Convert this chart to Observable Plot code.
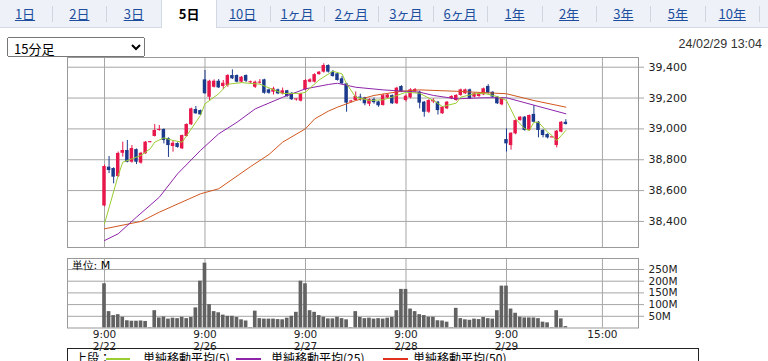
<!DOCTYPE html>
<html><head><meta charset="utf-8">
<script src="https://cdn.jsdelivr.net/npm/d3@7"></script>
<script src="https://cdn.jsdelivr.net/npm/@observablehq/plot@0.6"></script>
<style>
body{margin:0;width:768px;height:361px;overflow:hidden;background:#fff;position:relative;font-family:"Noto Sans CJK JP","Noto Sans",sans-serif}
#tabs{position:absolute;left:0;top:0;width:768px;height:27px;background:#eef2f8;border-bottom:1px solid #d3d9e3}
.tab{position:absolute;top:0;height:27px;line-height:27px;font-size:13px;color:#1d4f9e;text-decoration:underline;text-align:center}
.tab.sel{background:#fff;color:#000;font-weight:bold;text-decoration:none;border-left:1px solid #d3d9e3;border-right:1px solid #d3d9e3;height:28px}
.sep{position:absolute;top:6px;width:1px;height:16px;background:#d0d6e0}
#sel{position:absolute;left:7px;top:37px;width:138px;height:20px;font-size:13px;font-family:"Noto Sans CJK JP",sans-serif;padding:0 2px;box-sizing:border-box}
#stamp{position:absolute;right:6px;top:37px;font-size:12.5px;color:#333;font-family:"Liberation Sans",Arial,sans-serif}
#price{position:absolute;left:0;top:50px}
#vol{position:absolute;left:0;top:250px}
#legend{position:absolute;left:67px;top:348px;width:632px;height:20px;border:1px solid #222;box-sizing:border-box;font-size:12px;color:#000}
#legend span{position:absolute;top:3px;line-height:12px;white-space:nowrap}
#legend i{position:absolute;top:9px;height:2px}
svg text{font-family:"DejaVu Sans",sans-serif}
</style></head><body>
<div id="tabs"></div>
<select id="sel"></select>
<div id="stamp"></div>
<div id="price"></div>
<div id="vol"></div>
<div id="legend"></div>
<script>
// ---- labels ----
const tabLabels = ["1日","2日","3日","5日","10日","1ヶ月","2ヶ月","3ヶ月","6ヶ月","1年","2年","3年","5年","10年"];
const selectedTab = "5日";
const intervalLabel = "15分足";
const stampText = "24/02/29 13:04";
const volUnit = "単位: M";
const legendTitle = "上段：";
const maNames = ["単純移動平均(5)","単純移動平均(25)","単純移動平均(50)"];
const maColors = ["#9acd32","#8e24aa","#d2571e"];

// ---- axes ----
const xTickIdx = [0,22,44,66,88,109];
const xTickLabels = ["9:00\n2/22","9:00\n2/26","9:00\n2/27","9:00\n2/28","9:00\n2/29","15:00"];
const priceTicks = [38400,38600,38800,39000,39200,39400];
const volTicks = [50,100,150,200,250];

// ---- 15-minute candles (22 per day; 2/29 up to 13:00) ----
const opens = [
 38500,38752,38743,38691,38842,38860,38784,38866,38778,38839,38912,38951,38990,38996,38938,38886,38905,38871,38951,39027,39126,39119,
 39318,39205,39270,39309,39275,39281,39346,39346,39303,39346,39300,39270,39298,39318,39253,39238,39253,39227,39247,39231,39189,39180,
 39253,39303,39303,39352,39368,39411,39368,39357,39325,39292,39175,39184,39205,39201,39160,39190,39175,39152,39200,39216,39163,39275,
 39184,39201,39240,39238,39173,39108,39175,39173,39098,39130,39195,39184,39217,39228,39253,39206,39210,39221,39275,39238,39206,39156,
 38931,38892,38968,39054,39076,38990,39094,39043,38990,38964,38944,38892,38979,39043];
const highs = [
 38765,38821,38748,38850,38914,38925,38892,38870,38848,38918,38918,39028,39022,39000,38942,38925,38910,38960,39032,39135,39145,39122,
 39379,39315,39318,39320,39314,39352,39383,39350,39340,39350,39310,39310,39320,39322,39258,39270,39258,39265,39250,39235,39195,39232,
 39320,39325,39358,39372,39422,39415,39379,39362,39340,39296,39185,39240,39225,39205,39195,39200,39180,39225,39225,39220,39270,39280,
 39220,39260,39262,39245,39178,39190,39195,39178,39145,39178,39215,39222,39258,39258,39258,39233,39233,39265,39287,39240,39210,39203,
 39000,38975,39058,39080,39080,39090,39151,39048,38995,38968,38948,38990,39048,39060];
const lows = [
 38495,38710,38644,38685,38817,38780,38778,38769,38772,38835,38910,38948,38985,38903,38815,38849,38875,38866,38948,39022,39095,39088,
 39225,39184,39265,39262,39255,39270,39320,39298,39298,39300,39295,39262,39290,39225,39225,39220,39222,39220,39205,39185,39180,39175,
 39248,39298,39298,39348,39362,39362,39335,39310,39288,39108,39170,39180,39180,39150,39145,39160,39140,39148,39195,39158,39158,39235,
 39175,39195,39235,39130,39076,39100,39165,39090,39095,39125,39190,39180,39212,39224,39190,39202,39205,39216,39226,39200,39158,39150,
 38850,38862,38962,39050,38985,38985,39040,38942,38942,38935,38942,38877,38975,39025];
const closes = [
 38756,38730,38687,38841,38860,38784,38873,38784,38842,38914,38916,38990,38996,38925,38892,38907,38880,38957,39029,39130,39098,39091,
 39228,39309,39309,39266,39296,39346,39325,39303,39335,39309,39305,39303,39302,39231,39231,39260,39227,39247,39210,39189,39193,39227,
 39314,39318,39352,39368,39411,39368,39340,39314,39292,39167,39180,39210,39200,39163,39190,39170,39150,39216,39220,39163,39264,39238,
 39212,39253,39255,39167,39108,39184,39185,39119,39141,39173,39210,39217,39253,39253,39195,39228,39228,39260,39231,39206,39163,39199,
 38903,38972,39054,39076,38990,39087,39043,38990,38957,38942,38946,38985,39043,39029];
// volume, millions of shares
const volumes = [
 189,70,53,57,46,31,29,29,30,28,2,74,43,47,38,42,40,46,40,45,86,200,
 277,100,70,65,55,50,50,45,35,30,2,72,40,38,38,38,36,35,42,50,67,200,
 189,74,67,53,46,39,39,46,40,35,2,70,45,40,42,38,40,38,42,45,74,165,
 165,81,70,57,53,46,46,31,30,25,2,84,40,35,33,38,36,45,40,38,74,179,
 179,81,63,46,43,43,43,40,25,22,2,74,39,6];

// ---- moving averages (bar index, value) ----
const ma5Idx = [0,3,4,6,8,10,11,13,15,17,18,21,22,25,27,30,34,39,43,44,47,50,52,53,55,58,61,63,66,69,72,74,77,78,81,83,86,88,90,92,93,94,95,97,98,99,100,101];
const ma5Val = [38385,38698,38784,38806,38828,38871,38914,38942,38925,38914,38957,39087,39163,39228,39290,39300,39290,39230,39230,39238,39318,39374,39357,39292,39206,39184,39189,39206,39238,39231,39184,39145,39167,39206,39228,39231,39210,39184,39065,39001,38990,39043,39043,38979,38957,38924,38957,38990];
const ma25Idx = [0,3,7,12,16,21,25,29,33,39,44,49,51,55,61,69,72,77,83,88,101];
const ma25Val = [38276,38320,38428,38557,38709,38860,38968,39043,39130,39205,39260,39288,39296,39270,39253,39238,39217,39195,39202,39202,39098];
const ma50Idx = [0,8,12,21,25,32,36,39,44,46,49,51,55,59,65,69,77,88,94,101];
const ma50Val = [38352,38400,38460,38579,38612,38756,38834,38914,39001,39065,39115,39141,39184,39217,39244,39253,39244,39228,39184,39141];

// ---- HTML chrome ----
const tabs = document.getElementById("tabs");
tabLabels.forEach((t,k)=>{
  const c = 25 + k*54.4;
  const d = document.createElement("div");
  d.className = "tab" + (t===selectedTab ? " sel" : "");
  d.style.left = (c-27)+"px"; d.style.width = "54px";
  d.textContent = t; tabs.appendChild(d);
  if (t!==selectedTab && tabLabels[k+1]!==selectedTab) {
    const s = document.createElement("div"); s.className="sep"; s.style.left=(c+27)+"px"; tabs.appendChild(s);
  }
});
const sel = document.getElementById("sel");
const opt = document.createElement("option"); opt.textContent = intervalLabel; sel.appendChild(opt);
document.getElementById("stamp").textContent = stampText;
const lg = document.getElementById("legend");
lg.innerHTML = `<span style="left:7px">${legendTitle}</span>
<i style="left:38px;width:24px;background:${maColors[0]}"></i><span style="left:75px">${maNames[0]}</span>
<i style="left:168px;width:25px;background:${maColors[1]}"></i><span style="left:203px">${maNames[1]}</span>
<i style="left:315px;width:25px;background:#e0301e"></i><span style="left:345px">${maNames[2]}</span>`;

// ---- data table ----
const RED = "#e8174b", BLUE = "#1b3a8c";
const bars = opens.map((o,i)=>{
  const c = closes[i];
  let top = Math.max(o,c), bot = Math.min(o,c);
  if (top-bot < 7) { const m=(top+bot)/2; top=m+3.5; bot=m-3.5; }
  return {i, o, h:highs[i], l:lows[i], c, v:volumes[i], top, bot, col: c>=o ? RED : BLUE};
});
const ma = (idx,val)=>idx.map((i,k)=>({i, v:val[k]}));
const xDomain = [-8.1, 116.9];
const GRID = "#a6a6a6";
const labelOf = new Map(xTickIdx.map((d,k)=>[d,xTickLabels[k]]));

const price = Plot.plot({
  width:768, height:205, marginLeft:67, marginRight:130, marginTop:7, marginBottom:8,
  x:{domain:xDomain, axis:null, label:null}, y:{domain:[38231,39463], axis:null, label:null},
  color:{type:"identity"},
  marks:[
    Plot.gridY(priceTicks,{stroke:GRID, strokeOpacity:1}),
    Plot.gridX(xTickIdx,{stroke:GRID, strokeOpacity:1}),
    Plot.axisY(priceTicks,{anchor:"right", label:null, tickFormat:d3.format(","), tickSize:5, tickPadding:5, fontSize:11, stroke:GRID, fill:"#222"}),
    Plot.ruleX(bars,{x:"i", y1:"l", y2:"h", stroke:"col", strokeWidth:1}),
    Plot.rect(bars,{x1:d=>d.i-0.38, x2:d=>d.i+0.38, y1:"bot", y2:"top", fill:"col"}),
    Plot.line(ma(ma50Idx,ma50Val),{x:"i", y:"v", stroke:maColors[2], strokeWidth:1}),
    Plot.line(ma(ma25Idx,ma25Val),{x:"i", y:"v", stroke:maColors[1], strokeWidth:1}),
    Plot.line(ma(ma5Idx,ma5Val),{x:"i", y:"v", stroke:maColors[0], strokeWidth:1}),
    Plot.frame({stroke:"#999"})
  ]
});
document.getElementById("price").appendChild(price);

const vol = Plot.plot({
  width:768, height:111, marginLeft:67, marginRight:130, marginTop:8, marginBottom:33.5,
  x:{domain:xDomain, axis:null, label:null}, y:{domain:[0,297], axis:null, label:null},
  marks:[
    Plot.gridY(volTicks,{stroke:GRID, strokeOpacity:1}),
    Plot.gridX(xTickIdx,{stroke:GRID, strokeOpacity:1}),
    Plot.axisY(volTicks,{anchor:"right", label:null, tickFormat:d=>d+"M", tickSize:5, tickPadding:5, fontSize:10.5, stroke:GRID, fill:"#222"}),
    Plot.axisX(xTickIdx,{anchor:"bottom", label:null, tickFormat:d=>labelOf.get(d), tickSize:0, tickPadding:1, fontSize:10.5, lineHeight:1.15, fill:"#222"}),
    Plot.rectY(bars,{x1:d=>d.i-0.4, x2:d=>d.i+0.4, y:"v", fill:"#626262"}),
    Plot.text([volUnit],{frameAnchor:"top-left", dx:4, dy:3, fontSize:11, fill:"#000", fontFamily:"Noto Sans CJK JP"}),
    Plot.frame({stroke:"#999"})
  ]
});
document.getElementById("vol").appendChild(vol);
</script>
</body></html>
